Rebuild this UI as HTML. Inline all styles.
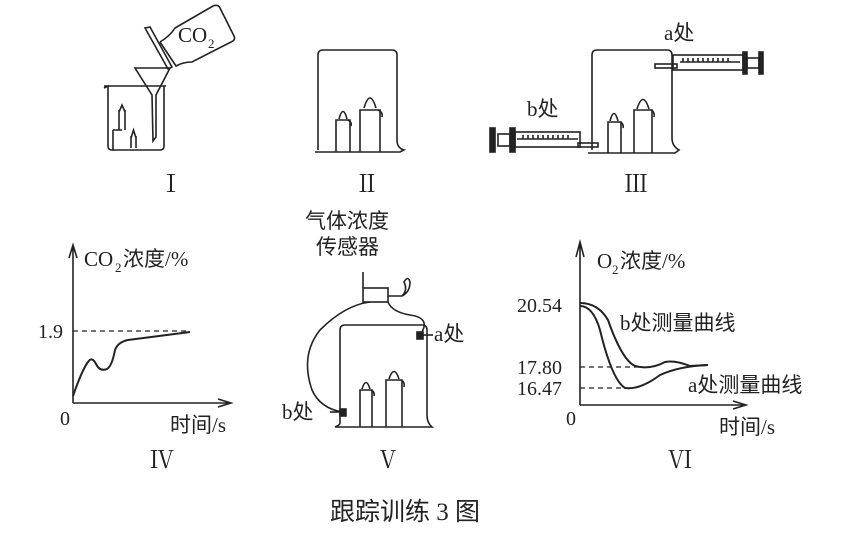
<!DOCTYPE html>
<html><head><meta charset="utf-8"><style>
html,body{margin:0;padding:0;background:#fff;}
svg{display:block;}
text{font-family:"Liberation Serif","Noto Serif CJK SC",serif;fill:#222;}
.s{font-family:"Liberation Serif","Noto Sans CJK SC",sans-serif;}
</style></head><body>
<svg width="849" height="540" viewBox="0 0 849 540" xmlns="http://www.w3.org/2000/svg" fill="none" stroke="#222" stroke-width="1.6">
<!-- Panel I -->
<path d="M104 88 L108 86 L108 146 Q108 150 112 150 L160 150 Q164 150 164 146 L164 86"/>
<line x1="104" y1="86" x2="166" y2="86"/>
<path d="M135 68 L170 68 L156 95 L156 137 L153 141 L152 95 Z"/>
<path d="M145 28 L150 27 L172 67 L168 69 Z"/>
<path d="M160 42 Q170 36 175 28 L213 6 Q218 4 220 8 L234 36 Q236 40 231 42 L192 62 Q183 62 176 66 L160 42"/>
<text x="178" y="42" font-size="21" stroke="none" class="s">CO</text><text x="208" y="48" font-size="13" stroke="none" class="s">2</text>
<path d="M113 130 L113 150 M113 130 L122 130 M119 130 V110 M125 130 V110 M119 112 L122 105 L125 112"/>
<path d="M131 148 V136 M136 148 V136 M131 138 L133.5 130 L136 138"/>
<!-- Panel II -->
<path d="M318 150 L318 55 Q318 50 323 50 L392 50 Q397 50 397 55 L397 140 Q397 148 404 150 L400 152 L315 152"/>
<path d="M336 152 V120 H350 V152 M360 152 V110 H380 V152"/>
<path d="M339 119 Q343 104 347 119 M364 108 Q370 88 376 108"/>
<path d="M348 120 Q352 122 351 126 M378 110 Q383 112 382 117"/>
<!-- Panel III -->
<path d="M592 150 L592 55 Q592 50 597 50 L667 50 Q672 50 672 55 L672 138 Q672 146 679 150 L675 153 L588 153"/>
<path d="M608 153 V122 H621 V153 M634 153 V110 H652 V153"/>
<path d="M610 121 Q614 106 618 121 M637 109 Q643 90 649 109"/>
<path d="M620 122 Q624 124 623 128 M651 110 Q655 112 654 117"/>
<rect x="655" y="64" width="22" height="4"/>
<rect x="673" y="55" width="70" height="15"/>
<path d="M680 62 H740 M683 58 v4 M688 58 v4 M693 58 v4 M698 58 v4 M703 58 v4 M708 58 v4 M713 58 v4 M718 58 v4 M723 58 v4 M728 58 v4"/>
<rect x="743" y="52" width="4" height="22" fill="#222"/>
<rect x="747" y="58" width="12" height="10"/>
<rect x="759" y="52" width="4" height="22" fill="#222"/>
<rect x="578" y="143" width="20" height="4"/>
<rect x="515" y="132" width="65" height="15"/>
<path d="M517 139 H578 M523 135 v4 M528 135 v4 M533 135 v4 M538 135 v4 M543 135 v4 M548 135 v4 M553 135 v4 M558 135 v4 M563 135 v4 M568 135 v4"/>
<rect x="510" y="128" width="5" height="24" fill="#222"/>
<rect x="498" y="134" width="12" height="12"/>
<rect x="490" y="128" width="5" height="24" fill="#222"/>
<text x="664" y="40" font-size="21" stroke="none" class="s">a处</text>
<text x="527" y="116" font-size="21" stroke="none" class="s">b处</text>
<!-- numerals -->
<text x="159" y="192" font-size="24" stroke="none">Ⅰ</text>
<text x="355" y="192" font-size="24" stroke="none">Ⅱ</text>
<text x="624" y="192" font-size="24" stroke="none">Ⅲ</text>
<!-- Panel IV -->
<path d="M73 403 V248 M69 258 L73 245 L77 258"/>
<path d="M73 403 H228 M218 399 L231 403 L218 407"/>
<line x1="73" y1="331" x2="190" y2="331" stroke-dasharray="5,4" stroke-width="1.3"/>
<path d="M73 396 Q82 370 88 362 Q92 356 96 364 Q100 372 107 369 Q112 366 115 350 Q118 342 128 340 L190 332" stroke-width="2"/>
<text x="84" y="266" font-size="21" stroke="none" class="s">CO</text><text x="115" y="272" font-size="13" stroke="none" class="s">2</text><text x="123" y="266" font-size="21" stroke="none" class="s">浓度/%</text>
<text x="38" y="338" font-size="20" stroke="none">1.9</text>
<text x="60" y="425" font-size="20" stroke="none">0</text>
<text x="170" y="432" font-size="21" stroke="none" class="s">时间/s</text>
<text x="150" y="468" font-size="24" stroke="none">Ⅳ</text>
<!-- Panel V -->
<text x="305" y="228" font-size="21" stroke="none" class="s">气体浓度</text>
<text x="316" y="254" font-size="21" stroke="none" class="s">传感器</text>
<rect x="363" y="288" width="25" height="14"/>
<path d="M363 288 V272"/>
<path d="M388 296 H402 Q408 290 404 282 Q408 275 410 282 Q410 292 402 296"/>
<path d="M370 302 Q345 305 320 330 Q300 355 312 390 Q320 408 342 412"/>
<path d="M388 302 Q392 312 410 315 Q432 318 420 335"/>
<path d="M340 423 L340 330 Q340 325 345 325 L422 325 Q427 325 427 330 L427 415 Q427 423 432 427 L335 427 Q340 425 340 423"/>
<rect x="340" y="409" width="6" height="7" fill="#222"/>
<rect x="417" y="332" width="6" height="7" fill="#222"/>
<line x1="423" y1="335" x2="433" y2="335"/>
<line x1="330" y1="412" x2="340" y2="412"/>
<path d="M360 427 V390 H372 V427 M386 427 V380 H402 V427"/>
<path d="M362 389 Q366 376 370 389 M389 379 Q394 364 399 379"/>
<path d="M371 390 Q375 392 374 396 M401 380 Q405 382 404 387"/>
<text x="434" y="341" font-size="21" stroke="none" class="s">a处</text>
<text x="282" y="419" font-size="21" stroke="none" class="s">b处</text>
<text x="376" y="468" font-size="24" stroke="none">Ⅴ</text>
<!-- Panel VI -->
<path d="M580 405 V245 M576 257 L580 242 L584 257"/>
<path d="M580 405 H743 M733 401 L746 405 L733 409"/>
<line x1="580" y1="367" x2="640" y2="367" stroke-dasharray="5,4" stroke-width="1.3"/>
<line x1="580" y1="388" x2="625" y2="388" stroke-dasharray="5,4" stroke-width="1.3"/>
<path d="M580 303 Q598 303 608 320 Q622 360 635 366 Q650 370 665 362 Q675 360 690 366 L708 365" stroke-width="2"/>
<path d="M580 306 Q593 306 600 330 Q612 380 625 388 Q640 390 660 375 Q680 366 708 365" stroke-width="2"/>
<text x="597" y="268" font-size="21" stroke="none" class="s">O</text><text x="612" y="274" font-size="13" stroke="none" class="s">2</text><text x="620" y="268" font-size="21" stroke="none" class="s">浓度/%</text>
<text x="517" y="312" font-size="20" stroke="none">20.54</text>
<text x="517" y="374" font-size="20" stroke="none">17.80</text>
<text x="517" y="395" font-size="20" stroke="none">16.47</text>
<text x="566" y="425" font-size="20" stroke="none">0</text>
<text x="620" y="330" font-size="21" stroke="none" class="s">b处测量曲线</text>
<text x="688" y="392" font-size="21" stroke="none" class="s">a处测量曲线</text>
<text x="719" y="434" font-size="21" stroke="none" class="s">时间/s</text>
<text x="668" y="468" font-size="24" stroke="none">Ⅵ</text>
<!-- caption -->
<text x="330" y="520" font-size="25" stroke="none" class="s">跟踪训练 3 图</text>
</svg>
</body></html>
